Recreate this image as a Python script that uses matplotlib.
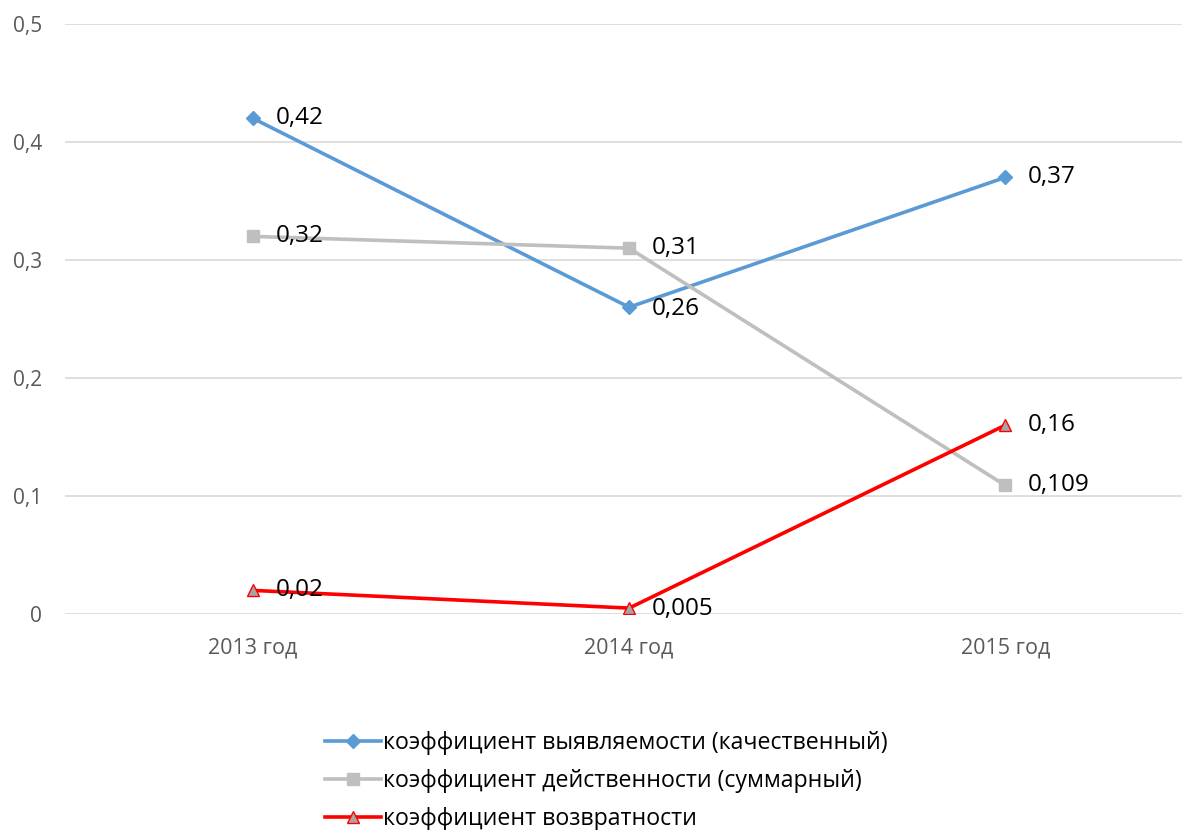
import matplotlib
matplotlib.use("Agg")
import matplotlib.pyplot as plt

plt.rcParams['font.family'] = ['Open Sans', 'DejaVu Sans']

years = ["2013 год", "2014 год", "2015 год"]
detect = [0.42, 0.26, 0.37]
effect = [0.32, 0.31, 0.109]
ret = [0.02, 0.005, 0.16]
detect_lbl = ["0,42", "0,26", "0,37"]
effect_lbl = ["0,32", "0,31", "0,109"]
ret_lbl = ["0,02", "0,005", "0,16"]
names = ["коэффициент выявляемости (качественный)",
         "коэффициент действенности (суммарный)",
         "коэффициент возвратности"]
yticks = [0, 0.1, 0.2, 0.3, 0.4, 0.5]
ytick_lbl = ["0", "0,1", "0,2", "0,3", "0,4", "0,5"]

fig = plt.figure(figsize=(11.82, 8.3), dpi=100)
ax = fig.add_axes([65 / 1182, 216 / 830, 1117 / 1182, 590 / 830])
x = range(len(years))

l1, = ax.plot(x, detect, color="#5B9BD5", lw=2.6, marker="D", ms=7,
              mfc="#5B9BD5", mec="#5B9BD5", zorder=3)
l2, = ax.plot(x, effect, color="#BFBFBF", lw=2.6, marker="s", ms=8,
              mfc="#BFBFBF", mec="#BFBFBF", zorder=3)
l3, = ax.plot(x, ret, color="#FF0000", lw=2.6, marker="^", ms=9,
              mfc="#A5A5A5", mec="#FF0000", mew=1, zorder=4)

for vals, lbls in [(detect, detect_lbl), (effect, effect_lbl), (ret, ret_lbl)]:
    for i, (v, t) in enumerate(zip(vals, lbls)):
        dy = 0
        if t == "0,26" or t == "0,005":
            dy = -1
        ax.annotate(t, (i, v), xytext=(16, dy), textcoords="offset points",
                    ha="left", va="center", fontsize=17.5, color="black", zorder=5)

ax.set_xlim(-0.5, 2.47)
ax.set_ylim(0, 0.5)
ax.set_yticks(yticks)
ax.set_yticklabels(ytick_lbl)
ax.set_xticks(list(x))
ax.set_xticklabels(years)
ax.tick_params(axis="both", length=0, labelcolor="#595959")
ax.tick_params(axis="y", pad=16.5, labelsize=15)
ax.tick_params(axis="x", pad=17, labelsize=15.5)
ax.grid(axis="y", color="#D9D9D9", lw=1.2)
ax.set_axisbelow(True)
for s in ax.spines.values():
    s.set_visible(False)

fig.legend([l1, l2, l3], names, loc="upper left", bbox_to_anchor=(316 / 1182, 1 - 722 / 830),
           frameon=False, fontsize=16.7, handlelength=2.4, handletextpad=0.1,
           labelspacing=0.6, borderaxespad=0)

fig.savefig("out.png", dpi=100)
